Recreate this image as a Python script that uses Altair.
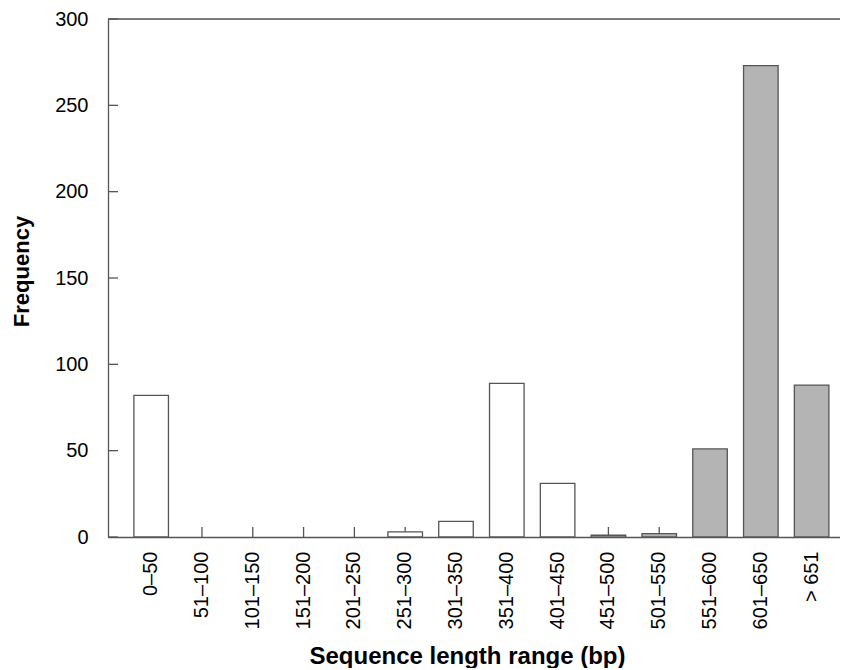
import altair as alt
import pandas as pd

categories = ["0–50", "51–100", "101–150", "151–200", "201–250", "251–300", "301–350",
              "351–400", "401–450", "451–500", "501–550", "551–600", "601–650", "> 651"]
frequency = [82, 0, 0, 0, 0, 3, 9, 89, 31, 1, 2, 51, 273, 88]
hatched = [False] * 10 + [True] * 4
y_ticks = [0, 50, 100, 150, 200, 250, 300]

df = pd.DataFrame({"cat": categories, "freq": frequency, "hatched": hatched})
tick_df = pd.DataFrame({"v": y_ticks})

W, H = 732, 518
FONT = "Liberation Sans"
AX = "#555555"

xscale = alt.Scale(domain=categories, paddingInner=0.32, paddingOuter=0.364, align=0.7)
yscale = alt.Scale(domain=[0, 300], nice=False)

xenc = alt.X("cat:N", scale=xscale, sort=categories,
             axis=alt.Axis(title="Sequence length range (bp)", labelAngle=270, labelFontSize=20,
                           labelFont=FONT, labelColor="black", labelPadding=14, ticks=False, tickSize=0,
                           domainColor=AX, domainWidth=1.3, titleFont=FONT, titleFontSize=24,
                           titleFontWeight="bold", titleColor="black", titleX=359, titleY=126,
                           titleAlign="center", titleBaseline="alphabetic", labelOverlap=False))
yenc = alt.Y("freq:Q", scale=yscale,
             axis=alt.Axis(title="Frequency", values=y_ticks, labelFontSize=20, labelFont=FONT,
                           labelColor="black", labelPadding=20, ticks=False, tickSize=0, grid=False,
                           domainColor=AX, domainWidth=1.3, titleFont=FONT, titleFontSize=22,
                           titleFontWeight="bold", titleColor="black", titleX=-75, titleY=252,
                           titleAlign="center", titleBaseline="bottom", titleAngle=270))

top_line = alt.Chart(tick_df).transform_filter(alt.datum.v == 300).mark_rule(
    color=AX, strokeWidth=1.3).encode(
    y=alt.Y("v:Q", scale=yscale), x=alt.value(0), x2=alt.value(W))

ytick_layer = alt.Chart(tick_df).mark_rule(color=AX, strokeWidth=1.3).encode(
    y=alt.Y("v:Q", scale=yscale), x=alt.value(0), x2=alt.value(10))

xtick_layer = alt.Chart(df).mark_rule(color=AX, strokeWidth=1.3).encode(
    x=alt.X("cat:N", scale=xscale, sort=categories), y=alt.value(H), y2=alt.value(H - 10))

bars = alt.Chart(df).transform_filter(alt.datum.freq > 0).mark_bar(
    stroke=AX, strokeWidth=1.3).encode(
    x=xenc, y=yenc,
    fill=alt.Fill("hatched:N", scale=alt.Scale(domain=[False, True], range=["#ffffff", "#b4b4b4"]),
                  legend=None))

chart = alt.layer(top_line, ytick_layer, xtick_layer, bars).resolve_scale(
    x="shared", y="shared").properties(
    width=W, height=H,
    autosize=alt.AutoSizeParams(type="none"),
    padding={"left": 100, "top": 11, "right": 0, "bottom": 131},
).configure_view(stroke=None).configure(background="white")

chart.save("out.html", embed_options={"renderer": "svg", "actions": False})
